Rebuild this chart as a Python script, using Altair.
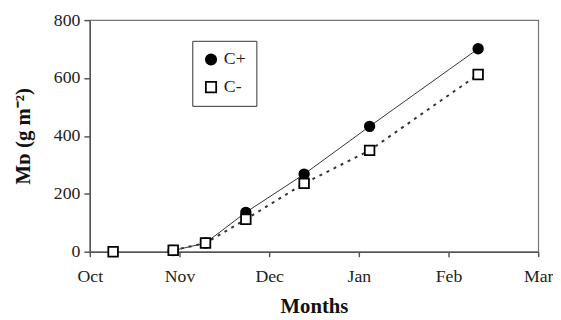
import altair as alt
import pandas as pd

# Data (x in months after 1 Oct)
months_x = [0.26, 0.93, 1.29, 1.74, 2.39, 3.12, 4.33]
c_plus = [None, 4, 30, 136, 268, 433, 701]
c_minus = [0, 5, 30, 112, 236, 350, 612]
series_names = ["C+", "C-"]
tick_labels = ["Oct", "Nov", "Dec", "Jan", "Feb", "Mar"]

rows = []
for x, v in zip(months_x, c_plus):
    if v is not None:
        rows.append({"x": x, "y": v, "series": "C+", "order": 0})
for x, v in zip(months_x, c_minus):
    if v is not None:
        rows.append({"x": x, "y": v, "series": "C-", "order": 1})
df = pd.DataFrame(rows)

label_expr = "[" + ",".join(f"'{t}'" for t in tick_labels) + "][datum.value]"

x_enc = alt.X("x:Q", scale=alt.Scale(domain=[0, 5], nice=False, zero=False),
              axis=alt.Axis(values=[0, 1, 2, 3, 4, 5], labelExpr=label_expr,
                            title="Months", grid=False, tickSize=5,
                            labelPadding=11, titlePadding=11, labelFlush=False,
                            labelOverlap=False))
y_enc = alt.Y("y:Q", scale=alt.Scale(domain=[0, 800], nice=False),
              axis=alt.Axis(values=[0, 200, 400, 600, 800], title="Mᴅ (g m⁻²)",
                            grid=False, tickSize=6, labelPadding=4,
                            titlePadding=20))

base = alt.Chart(df)

line_plus = base.transform_filter(alt.datum.series == "C+").mark_line(
    color="#333333", strokeWidth=1
).encode(x=x_enc, y=y_enc)

line_minus = base.transform_filter(
    (alt.datum.series == "C-") & (alt.datum.x > 0.5)
).mark_line(color="#333333", strokeWidth=2, strokeDash=[3, 5]).encode(x=x_enc, y=y_enc)

points = base.mark_point(size=95, strokeWidth=1.8, opacity=1, filled=False).encode(
    x=x_enc,
    y=y_enc,
    order=alt.Order("order:Q"),
    shape=alt.Shape("series:N", scale=alt.Scale(domain=series_names, range=["circle", "square"]),
                    legend=alt.Legend(title=None, orient="none", legendX=104, legendY=21,
                                      strokeColor="#333333", padding=10, rowPadding=10,
                                      labelFontSize=18, labelFont="Liberation Serif",
                                      labelColor="#222222", symbolSize=110,
                                      symbolStrokeWidth=1.8, labelOffset=4)),
    fill=alt.Fill("series:N", scale=alt.Scale(domain=series_names, range=["black", "white"]),
                  legend=alt.Legend(title=None, orient="none", legendX=104, legendY=21)),
    stroke=alt.value("black"),
)

chart = alt.layer(line_plus, line_minus, points).properties(
    width=455, height=235,
    autosize=alt.AutoSizeParams(type="none"),
    padding={"left": 83, "top": 10, "right": 15, "bottom": 67},
).configure_view(stroke="#777777", strokeWidth=1.2).configure_axis(
    labelFont="Liberation Serif", titleFont="Liberation Serif",
    labelFontSize=18, titleFontSize=21, titleFontWeight="bold",
    labelColor="#222222", titleColor="#111111",
    domainColor="#555555", tickColor="#555555", domainWidth=1.5, tickWidth=1.5,
)

chart.save("out.html", embed_options={"renderer": "svg", "actions": False})
